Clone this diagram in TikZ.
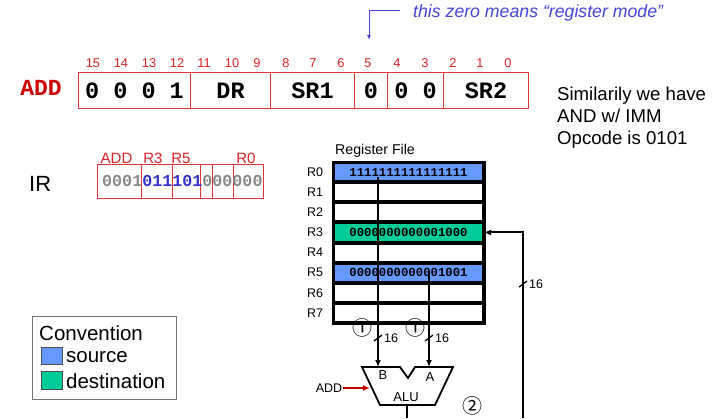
\documentclass[tikz,border=0pt]{standalone}
\usepackage{fontspec}
\setmainfont{Liberation Sans}
\setmonofont{Liberation Mono}
\newfontfamily\symfont{Noto Sans CJK SC}
\usetikzlibrary{arrows.meta}

\definecolor{boxred}{HTML}{E03535}
\definecolor{darkred}{HTML}{CC0000}
\definecolor{bitred}{HTML}{DD2222}
\definecolor{notebl}{HTML}{4444DD}
\definecolor{irblue}{HTML}{3333CC}
\definecolor{irgray}{HTML}{888888}
\definecolor{srcblue}{HTML}{6699FF}
\definecolor{dstgreen}{HTML}{00CC99}

\newcommand\fsz[1]{\fontsize{#1}{#1}\selectfont}

\tikzset{
  cell/.style={draw=boxred, line width=1pt, inner sep=0pt, minimum height=36pt,
               anchor=north west, font=\ttfamily\bfseries\fsz{23.5}},
  bitlbl/.style={text=bitred, inner sep=0pt, font=\fsz{12.8}},
  ircell/.style={draw=boxred, line width=0.9pt, inner sep=0pt, minimum height=34pt,
                 anchor=north west},
  irlbl/.style={text=bitred, inner sep=0pt, font=\fsz{15}},
  regrow/.style={draw=black, line width=2pt, inner sep=0pt, minimum width=149pt,
                 minimum height=18.125pt, anchor=north west,
                 font=\ttfamily\bfseries\fsz{12.3}},
  reglbl/.style={inner sep=0pt, font=\fsz{12.5}},
  bus/.style={line width=2pt, -{Latex[length=7pt,width=6pt]}},
  plainbus/.style={line width=2pt},
  slashmark/.style={line width=1.3pt},
  widthlbl/.style={inner sep=0pt, anchor=west, font=\fsz{12.5}},
  stepnum/.style={inner sep=0pt, font=\symfont\fsz{20}},
}

\begin{document}
\begin{tikzpicture}[x=1pt, y=-1pt]
\useasboundingbox (0,0) rectangle (717,418);

% ---- instruction format ----
\node[text=darkred, inner sep=0pt, font=\ttfamily\bfseries\fsz{23}] (addname) at (41,88) {ADD};

\node[cell, minimum width=112pt] (opc) at (78,72) {0 0 0 1};
\node[cell, minimum width=80pt]  (dr)  at (190,72) {DR};
\node[cell, minimum width=84pt]  (sr1) at (270,72) {SR1};
\node[cell, minimum width=33pt]  (md)  at (354,72) {0};
\node[cell, minimum width=56pt]  (pad) at (387,72) {0 0};
\node[cell, minimum width=85pt]  (sr2) at (443,72) {SR2};

\node[bitlbl] (b15) at (93,63) {15};
\node[bitlbl] (b14) at (121,63) {14};
\node[bitlbl] (b13) at (149,63) {13};
\node[bitlbl] (b12) at (177,63) {12};
\node[bitlbl] (b11) at (204,63) {11};
\node[bitlbl] (b10) at (232,63) {10};
\node[bitlbl] (b9)  at (257,63) {9};
\node[bitlbl] (b8)  at (286,63) {8};
\node[bitlbl] (b7)  at (313,63) {7};
\node[bitlbl] (b6)  at (341,63) {6};
\node[bitlbl] (b5)  at (368,63) {5};
\node[bitlbl] (b4)  at (397,63) {4};
\node[bitlbl] (b3)  at (425,63) {3};
\node[bitlbl] (b2)  at (453,63) {2};
\node[bitlbl] (b1)  at (480,63) {1};
\node[bitlbl] (b0)  at (508,63) {0};

% note on bit 5
\coordinate (notestart) at (400,10);
\coordinate (notebend) at (369,10);
\coordinate (notetip) at (369,40);
\draw[notebl, line width=0.9pt, -{Latex[length=5pt,width=4pt]}] (notestart) -- (notebend) -- (notetip);
\node[inner sep=0pt, anchor=west, text=notebl, font=\itshape\fsz{17.7}] (note) at (413,13)
  {this zero means “register mode”};

\node[inner sep=0pt, align=left, anchor=north west, font=\fontsize{18.6}{22}\selectfont]
  (similar) at (557,87) {Similarily we have\\AND w/ IMM\\Opcode is 0101};

% ---- instruction register ----
\node[inner sep=0pt, anchor=west, font=\fsz{22}] (irname) at (29,184) {IR};
\node[ircell, minimum width=44pt] (ir1) at (97,164) {};
\node[ircell, minimum width=31pt] (ir2) at (141,164) {};
\node[ircell, minimum width=28pt] (ir3) at (172,164) {};
\node[ircell, minimum width=12pt] (ir4) at (200,164) {};
\node[ircell, minimum width=21pt] (ir5) at (212,164) {};
\node[ircell, minimum width=30pt] (ir6) at (233,164) {};
\node[inner sep=0pt, anchor=west, font=\ttfamily\bfseries\fsz{16.7}] (irbits) at (102,181)
  {\textcolor{irgray}{0001}\textcolor{irblue}{011101}\textcolor{irgray}{000000}};
\node[irlbl] (iradd) at (116.5,158) {ADD};
\node[irlbl] (irr3) at (153,158) {R3};
\node[irlbl] (irr5) at (181,158) {R5};
\node[irlbl] (irr0) at (246,158) {R0};

% ---- register file ----
\node[inner sep=0pt, anchor=west, font=\fsz{14.2}] (rftitle) at (335,151) {Register File};
\node[regrow, fill=srcblue]   (r0) at (333,162) {1111111111111111};
\node[regrow]                (r1) at (r0.south west) {};
\node[regrow]                (r2) at (r1.south west) {};
\node[regrow, fill=dstgreen] (r3) at (r2.south west) {0000000000001000};
\node[regrow]                (r4) at (r3.south west) {};
\node[regrow, fill=srcblue]  (r5) at (r4.south west) {0000000000001001};
\node[regrow]                (r6) at (r5.south west) {};
\node[regrow]                (r7) at (r6.south west) {};
\draw[line width=3pt] (r0.north west) rectangle (r7.south east);

\coordinate (lblx) at (315,0);
\node[reglbl] (l0) at (r0 -| lblx) {R0};
\node[reglbl] (l1) at (r1 -| lblx) {R1};
\node[reglbl] (l2) at (r2 -| lblx) {R2};
\node[reglbl] (l3) at (r3 -| lblx) {R3};
\node[reglbl] (l4) at (r4 -| lblx) {R4};
\node[reglbl] (l5) at (r5 -| lblx) {R5};
\node[reglbl] (l6) at (r6 -| lblx) {R6};
\node[reglbl] (l7) at (r7 -| lblx) {R7};

% ---- ALU ----
\coordinate (atl) at (362,367);
\coordinate (anl) at (400,367);
\coordinate (anb) at (408,378);
\coordinate (anr) at (415,367);
\coordinate (atr) at (453,367);
\coordinate (abr) at (435,405);
\coordinate (abl) at (380,405);
\draw[line width=1.8pt, line join=miter] (atl) -- (anl) -- (anb) -- (anr) -- (atr) -- (abr) -- (abl) -- cycle;
\node[inner sep=0pt, font=\fsz{13}] (inB) at (383,375) {B};
\node[inner sep=0pt, font=\fsz{13}] (inA) at (430,377) {A};
\node[inner sep=0pt, font=\fsz{13}] (alu) at (406,397) {ALU};

\coordinate (aluB) at (378,367);
\coordinate (aluA) at (429,367);
\coordinate (aluL) at (370,388);
\coordinate (aluout) at (407,405);
\coordinate (outend) at (407,418);

% operand buses
\coordinate (srcB) at (378,177);
\coordinate (srcA) at (429,270);
\draw[bus] (srcB) -- (aluB);
\draw[bus] (srcA) -- (aluA);
\draw[slashmark] (374,341) -- (382,335);
\draw[slashmark] (425,341) -- (433,335);
\node[widthlbl] (wB) at (384,338) {16};
\node[widthlbl] (wA) at (435,338) {16};
\node[stepnum] (s1B) at (362,328) {①};
\node[stepnum] (s1A) at (415,328) {①};

% operation select
\node[inner sep=0pt, font=\fsz{12.5}] (addctl) at (329,388) {ADD};
\draw[darkred, line width=2pt, -{Latex[length=7pt,width=6pt]}] (addctl.east) ++(1,0) -- (aluL);

% result
\draw[plainbus] (aluout) -- (outend);
\node[stepnum] (s2) at (472,406) {②};
\coordinate (fb) at (523,418);
\draw[bus] (fb) |- (r3.east);
\draw[slashmark] (519,287) -- (527,281);
\node[widthlbl] (wR) at (529,284) {16};

% ---- convention legend ----
\node[draw=black!55, line width=0.9pt, minimum width=144pt, minimum height=83pt,
      inner sep=0pt, anchor=north west] (conv) at (32,316) {};
\node[inner sep=0pt, anchor=west, font=\fsz{20.5}] (convtitle) at (39,333) {Convention};
\node[draw=black!70, line width=0.8pt, fill=srcblue, minimum width=21pt, minimum height=17pt,
      inner sep=0pt, anchor=north west] (srcsq) at (41,347) {};
\node[draw=black!70, line width=0.8pt, fill=dstgreen, minimum width=21pt, minimum height=18pt,
      inner sep=0pt, anchor=north west] (dstsq) at (41,371) {};
\node[inner sep=0pt, anchor=west, font=\fsz{20.5}] (srctxt) at (66,357) {source};
\node[inner sep=0pt, anchor=west, font=\fsz{20.5}] (dsttxt) at (66,381) {destination};
\end{tikzpicture}
\end{document}
